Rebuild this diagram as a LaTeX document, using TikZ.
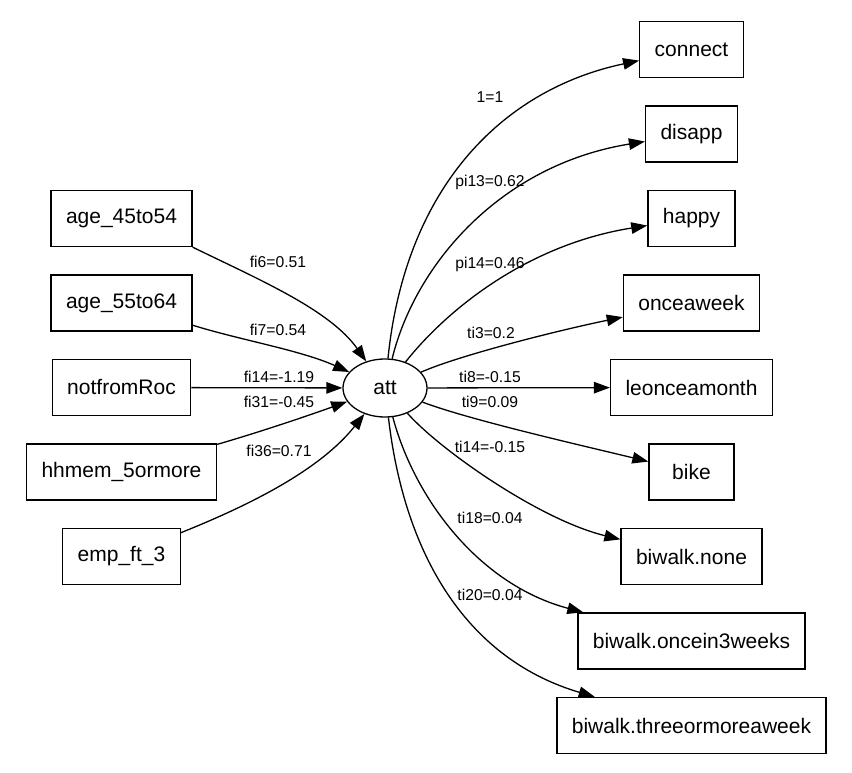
\documentclass[tikz,border=0pt]{standalone}
\usepackage{fontspec}
\setmainfont{Liberation Sans}
\usepackage{tikz}
\usetikzlibrary{arrows.meta,positioning,shapes.geometric}

\begin{document}
\begin{tikzpicture}[x=1pt,y=-1pt,node distance=27.2pt,>={Triangle[length=16pt,width=11.5pt]},line width=1.3pt]
  \tikzstyle{var}=[draw,rectangle,font=\fontsize{21}{25}\selectfont,inner xsep=15pt,minimum width=85pt,minimum height=56pt]
  \tikzstyle{lat}=[draw,ellipse,font=\fontsize{21}{25}\selectfont,inner sep=0pt,minimum width=84pt,minimum height=58pt]
  \tikzstyle{lbl}=[font=\fontsize{15.7}{18}\selectfont,inner sep=0pt]
  \useasboundingbox (0,0) rectangle (852,773);
  % latent variable
  \node[lat] (att) at (385,388) {att};
  % causes
  \node[var] (a45) at (121.5,218.5) {age\_45to54};
  \node[var,below=of a45] (a55) {age\_55to64};
  \node[var,below=of a55] (nfr) {notfromRoc};
  \node[var,below=of nfr] (hh5) {hhmem\_5ormore};
  \node[var,below=of hh5] (emp) {emp\_ft\_3};
  % indicators
  \node[var] (conn) at (691.5,49.5) {connect};
  \node[var,below=of conn] (disapp) {disapp};
  \node[var,below=of disapp] (happy) {happy};
  \node[var,below=of happy] (once) {onceaweek};
  \node[var,below=of once] (leon) {leonceamonth};
  \node[var,below=of leon] (bike) {bike};
  \node[var,below=of bike] (bwnone) {biwalk.none};
  \node[var,below=of bwnone] (bw3w) {biwalk.oncein3weeks};
  \node[var,below=of bw3w] (bw3m) {biwalk.threeormoreaweek};
  % paths in
  \draw[->] (a45.south east) .. controls (260,280) and (330,310) .. (att);
  \draw[->] (a55) .. controls (240,340) and (300,350) .. (att);
  \draw[->] (nfr) -- (att);
  \draw[->] (hh5) .. controls (260,432) and (310,415) .. (att);
  \draw[->] (emp) .. controls (250,505) and (320,470) .. (att);
  % paths out
  \draw[->] (att) .. controls (405,190) and (500,90) .. (conn);
  \draw[->] (att) .. controls (415,265) and (500,165) .. (disapp);
  \draw[->] (att) .. controls (445,312) and (525,245) .. (happy);
  \draw[->] (att) .. controls (460,355) and (560,330) .. (once);
  \draw[->] (att) -- (leon);
  \draw[->] (att) .. controls (470,420) and (580,445) .. (bike);
  \draw[->] (att) .. controls (440,450) and (540,520) .. (bwnone);
  \draw[->] (att) .. controls (415,500) and (480,585) .. (bw3w);
  \draw[->] (att) .. controls (405,560) and (470,660) .. (bw3m);
  % coefficients
  \node[lbl] (fi6) at (278,262) {fi6=0.51};
  \node[lbl] (fi7) at (278,330) {fi7=0.54};
  \node[lbl] (fi14) at (279,377) {fi14=-1.19};
  \node[lbl] (fi31) at (279,402) {fi31=-0.45};
  \node[lbl] (fi36) at (279,451) {fi36=0.71};
  \node[lbl] (one) at (490,97) {1=1};
  \node[lbl] (pi13) at (490,182) {pi13=0.62};
  \node[lbl] (pi14) at (490,264) {pi14=0.46};
  \node[lbl] (ti3) at (491,333) {ti3=0.2};
  \node[lbl] (ti8) at (490,377) {ti8=-0.15};
  \node[lbl] (ti9) at (490,402) {ti9=0.09};
  \node[lbl] (ti14) at (490,447) {ti14=-0.15};
  \node[lbl] (ti18) at (490,518) {ti18=0.04};
  \node[lbl] (ti20) at (490,595) {ti20=0.04};
\end{tikzpicture}
\end{document}
